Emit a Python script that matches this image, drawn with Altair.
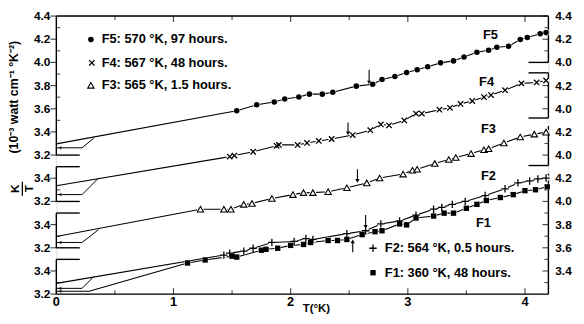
import altair as alt
import pandas as pd

# ---------------- data ----------------
# T (K) and K/T (1e-3 W cm^-1 K^-2) in each series' own (offset) axis frame
f5_T = [1.54, 1.71, 1.86, 1.95, 2.07, 2.16, 2.27, 2.36, 2.56, 2.70, 2.78, 2.89, 2.99,
        3.08, 3.17, 3.28, 3.39, 3.48, 3.59, 3.69, 3.76, 3.86, 3.96, 4.02, 4.13, 4.18]
f5_v = [3.583, 3.634, 3.659, 3.684, 3.701, 3.726, 3.726, 3.743, 3.795, 3.812, 3.853, 3.878, 3.912,
        3.937, 3.962, 3.996, 4.013, 4.046, 4.088, 4.105, 4.131, 4.139, 4.198, 4.215, 4.248, 4.257]

f4_T = [1.48, 1.52, 1.68, 1.88, 1.90, 2.06, 2.14, 2.24, 2.35, 2.53, 2.68, 2.77, 2.84,
        2.97, 3.07, 3.12, 3.27, 3.36, 3.45, 3.55, 3.65, 3.71, 3.83, 3.97, 4.10, 4.18]
f4_v = [3.587, 3.596, 3.629, 3.680, 3.688, 3.688, 3.705, 3.722, 3.739, 3.773, 3.815, 3.865, 3.857,
        3.899, 3.958, 3.958, 3.992, 4.008, 4.042, 4.067, 4.101, 4.118, 4.160, 4.219, 4.227, 4.244]

f3_T = [1.23, 1.43, 1.49, 1.60, 1.67, 1.84, 2.02, 2.11, 2.19, 2.32, 2.48, 2.65, 2.76,
        2.96, 3.04, 3.08, 3.23, 3.35, 3.41, 3.54, 3.65, 3.69, 3.82, 3.96, 4.08, 4.18]
f3_v = [3.533, 3.533, 3.533, 3.575, 3.583, 3.625, 3.659, 3.676, 3.676, 3.684, 3.718, 3.760, 3.802,
        3.836, 3.869, 3.878, 3.928, 3.962, 3.979, 4.013, 4.046, 4.055, 4.105, 4.156, 4.181, 4.198]

f2_T = [1.43, 1.48, 1.60, 1.68, 1.84, 2.03, 2.13, 2.19, 2.48, 2.64, 2.77, 2.93, 3.07,
        3.22, 3.29, 3.38, 3.49, 3.66, 3.83, 3.94, 4.04, 4.11, 4.18]
f2_v = [3.537, 3.554, 3.571, 3.596, 3.646, 3.655, 3.680, 3.672, 3.722, 3.747, 3.806, 3.832, 3.882,
        3.933, 3.949, 3.975, 4.000, 4.051, 4.109, 4.160, 4.177, 4.194, 4.202]

f1_T = [1.12, 1.27, 1.50, 1.54, 1.75, 1.79, 1.89, 2.00, 2.11, 2.17, 2.32, 2.40, 2.48, 2.61, 2.72,
        2.78, 2.93, 2.99, 3.07, 3.22, 3.31, 3.39, 3.50, 3.59, 3.67, 3.79, 3.90, 4.00, 4.09, 4.19]
f1_v = [3.469, 3.495, 3.528, 3.520, 3.579, 3.587, 3.596, 3.621, 3.629, 3.646, 3.663, 3.663, 3.672,
        3.714, 3.739, 3.747, 3.806, 3.798, 3.857, 3.874, 3.899, 3.899, 3.941, 3.975, 4.008, 4.034,
        4.059, 4.093, 4.101, 4.126]

series_names = ["F5", "F4", "F3", "F2", "F1"]
offsets = [1.2, 0.8, 0.4, 0.0, 0.0]          # vertical shift of each curve's axis frame
lead_T = [[0.0], [0.0], [0.0], [0.0], [0.0, 0.28]]   # straight extrapolated start of each line
lead_v = [[3.297], [3.335], [3.297], [3.293], [3.225, 3.225]]
inset_T = [[0.0, 0.22, 0.32], [0.0, 0.22, 0.36], [0.0, 0.22, 0.36], [0.0, 0.22, 0.32]]
inset_v = [[3.263, 3.263, 3.347], [3.259, 3.259, 3.402], [3.246, 3.246, 3.356], [3.25, 3.25, 3.352]]

# arrows marking the transition: T, tail value, tip value (series frame)
arrow_series = ["F5", "F4", "F3", "F2", "F1"]
arrow_T = [2.67, 2.49, 2.57, 2.64, 2.53]
arrow_tail = [3.937, 3.882, 3.878, 3.882, 3.562]
arrow_tip = [3.827, 3.789, 3.777, 3.781, 3.655]

legend_top = ["F5: 570 °K,  97 hours.", "F4: 567 °K,  48 hours.", "F3: 565 °K,  1.5 hours."]
legend_bot = ["F2: 564 °K, 0.5 hours.", "F1: 360 °K, 48 hours."]
x_ticks = [0, 1, 2, 3, 4]

FONT = "Liberation Sans"
off = dict(zip(series_names, offsets))
data = {"F5": (f5_T, f5_v), "F4": (f4_T, f4_v), "F3": (f3_T, f3_v), "F2": (f2_T, f2_v), "F1": (f1_T, f1_v)}

xs = alt.Scale(domain=[0, 4.2], nice=False, zero=False)
ys = alt.Scale(domain=[3.2, 5.6], nice=False, zero=False)
X = alt.X("T:Q", scale=xs, axis=None)
Y = alt.Y("u:Q", scale=ys, axis=None)

# ---------------- lines ----------------
rows = []
for i, s in enumerate(series_names):
    k = 0
    for t, v in zip(lead_T[i], lead_v[i]):
        rows.append({"s": s, "T": t, "u": v + offsets[i], "o": k}); k += 1
    for t, v in zip(*data[s]):
        rows.append({"s": s, "T": t, "u": v + offsets[i], "o": k}); k += 1
lines_df = pd.DataFrame(rows)
lines = alt.Chart(lines_df).mark_line(color="black", strokeWidth=1.1).encode(
    x=X, y=Y, detail="s:N", order="o:Q")

rows = []
for i, s in enumerate(series_names[:4]):
    for k, (t, v) in enumerate(zip(inset_T[i], inset_v[i])):
        rows.append({"s": s, "T": t, "u": v + offsets[i], "o": k})
inset_df = pd.DataFrame(rows)
insets = alt.Chart(inset_df).mark_line(color="black", strokeWidth=1.0).encode(
    x=X, y=Y, detail="s:N", order="o:Q")

heads_df = pd.DataFrame(
    [{"T": 0.03, "u": inset_v[i][0] + offsets[i]} for i in range(4)] +
    [{"T": 0.03, "u": lead_v[4][0] + offsets[4]}])
heads = alt.Chart(heads_df).mark_point(shape="triangle-left", filled=True, color="black", size=14).encode(x=X, y=Y)

# ---------------- markers ----------------
def pts(s):
    T, v = data[s]
    return pd.DataFrame({"T": T, "u": [a + off[s] for a in v]})

all_pts = pd.concat([pts(s) for s in series_names], ignore_index=True)
halo = alt.Chart(all_pts).mark_point(shape="circle", filled=True, color="white", size=44, opacity=1).encode(x=X, y=Y)

m5 = alt.Chart(pts("F5")).mark_point(shape="circle", filled=True, color="black", size=32, opacity=1).encode(x=X, y=Y)
m4 = alt.Chart(pts("F4")).mark_point(shape="M-1,-1L1,1M-1,1L1,-1", filled=False, color="black",
                                     size=30, strokeWidth=1.3, opacity=1).encode(x=X, y=Y)
m3 = alt.Chart(pts("F3")).mark_point(shape="triangle-up", filled=True, fill="white", stroke="black",
                                     strokeWidth=1.1, size=42, opacity=1).encode(x=X, y=Y)
m2 = alt.Chart(pts("F2")).mark_point(shape="M-1,0L1,0M0,-1L0,1", filled=False, color="black",
                                     size=56, strokeWidth=1.3, opacity=1).encode(x=X, y=Y)
m1 = alt.Chart(pts("F1")).mark_point(shape="square", filled=True, color="black", size=30, opacity=1).encode(x=X, y=Y)

# ---------------- transition arrows ----------------
arr_df = pd.DataFrame({
    "T": arrow_T,
    "u": [a + off[s] for a, s in zip(arrow_tail, arrow_series)],
    "u2": [a + off[s] for a, s in zip(arrow_tip, arrow_series)],
    "dir": ["down" if b < a else "up" for a, b in zip(arrow_tail, arrow_tip)],
})
arr_rule = alt.Chart(arr_df).mark_rule(color="black", strokeWidth=1.1).encode(x=X, y=Y, y2="u2:Q")
arr_head = alt.Chart(arr_df).mark_point(filled=True, color="black", size=18, opacity=1).encode(
    x=X, y=alt.Y("u2:Q", scale=ys, axis=None),
    shape=alt.Shape("dir:N", scale=alt.Scale(domain=["down", "up"], range=["triangle-down", "triangle-up"]), legend=None))

# ---------------- frame / segmented axes ----------------
# (T1, v1, T2, v2, frame offset)
segments = [
    (0, 4.4, 4.2, 4.4, 1.2), (0, 3.2, 4.2, 3.2, 0.0),
    (0, 3.2, 0, 4.4, 1.2), (0, 3.2, 0.2, 3.2, 1.2),
    (0, 3.2, 0, 3.5, 0.8), (0, 3.5, 0.2, 3.5, 0.8), (0, 3.2, 0.2, 3.2, 0.8),
    (0, 3.2, 0, 3.5, 0.4), (0, 3.5, 0.2, 3.5, 0.4), (0, 3.2, 0.2, 3.2, 0.4),
    (0, 3.2, 0, 3.5, 0.0), (0, 3.5, 0.2, 3.5, 0.0),
    (4.2, 4.0, 4.2, 4.4, 1.2), (4.03, 4.0, 4.2, 4.0, 1.2),
    (4.2, 3.92, 4.2, 4.31, 0.8), (4.03, 4.31, 4.2, 4.31, 0.8), (4.03, 3.92, 4.2, 3.92, 0.8),
    (4.2, 3.91, 4.2, 4.25, 0.4), (4.03, 3.91, 4.2, 3.91, 0.4),
    (4.2, 3.2, 4.2, 4.24, 0.0),
]
seg_df = pd.DataFrame([{"T": a, "u": b + o, "T2": c, "u2": d + o} for a, b, c, d, o in segments])
frame = alt.Chart(seg_df).mark_rule(color="black", strokeWidth=1.4).encode(
    x=X, y=Y, x2="T2:Q", y2="u2:Q")

# axis ticks: (frame offset, major values, minor values)
left_axes = [(1.2, [3.2, 3.4, 3.6, 3.8, 4.0, 4.2, 4.4], [3.3, 3.5, 3.7, 3.9, 4.1, 4.3]),
             (0.8, [3.2, 3.4], [3.3]), (0.4, [3.2, 3.4], [3.3]), (0.0, [3.2, 3.4], [3.3])]
right_axes = [(1.2, [4.0, 4.2, 4.4], [4.1, 4.3]), (0.8, [4.0, 4.2], [4.1]),
              (0.4, [4.0, 4.2], [4.1]), (0.0, [3.4, 3.6, 3.8, 4.0, 4.2], [3.3, 3.5, 3.7, 3.9, 4.1])]

def tick_df(axes, T, which):
    r = []
    for o, maj, mnr in axes:
        for v in (maj if which == "maj" else mnr):
            r.append({"T": T, "u": v + o, "lab": f"{v:.1f}"})
    return pd.DataFrame(r)

lmaj, lmin = tick_df(left_axes, 0.0, "maj"), tick_df(left_axes, 0.0, "min")
rmaj, rmin = tick_df(right_axes, 4.2, "maj"), tick_df(right_axes, 4.2, "min")
lt1 = alt.Chart(lmaj).mark_tick(orient="horizontal", size=6, thickness=1.2, color="black", xOffset=-3).encode(x=X, y=Y)
lt2 = alt.Chart(lmin).mark_tick(orient="horizontal", size=4, thickness=1.1, color="black", xOffset=2).encode(x=X, y=Y)
rt1 = alt.Chart(rmaj).mark_tick(orient="horizontal", size=6, thickness=1.2, color="black", xOffset=-3).encode(x=X, y=Y)
rt2 = alt.Chart(rmin).mark_tick(orient="horizontal", size=4, thickness=1.1, color="black", xOffset=-2).encode(x=X, y=Y)
ll = alt.Chart(lmaj).mark_text(align="right", baseline="middle", dx=-6, font=FONT, fontSize=12,
                               fontWeight="bold").encode(x=X, y=Y, text="lab:N")
rl = alt.Chart(rmaj).mark_text(align="left", baseline="middle", dx=7, font=FONT, fontSize=12,
                               fontWeight="bold").encode(x=X, y=Y, text="lab:N")

xmaj = [float(t) for t in x_ticks]
xmin = [t + 0.5 for t in x_ticks]
bt_df = pd.DataFrame({"T": xmaj, "u": 3.2, "lab": [str(t) for t in x_ticks]})
bm_df = pd.DataFrame({"T": xmin, "u": 3.2})
tt_df = pd.DataFrame({"T": xmaj[1:], "u": 5.6})
tm_df = pd.DataFrame({"T": xmin, "u": 5.6})
bt1 = alt.Chart(bt_df).mark_tick(orient="vertical", size=6, thickness=1.2, color="black", yOffset=-3).encode(x=X, y=Y)
bt2 = alt.Chart(bm_df).mark_tick(orient="vertical", size=4, thickness=1.1, color="black", yOffset=-2).encode(x=X, y=Y)
tt1 = alt.Chart(tt_df).mark_tick(orient="vertical", size=6, thickness=1.2, color="black", yOffset=3).encode(x=X, y=Y)
tt2 = alt.Chart(tm_df).mark_tick(orient="vertical", size=4, thickness=1.1, color="black", yOffset=2).encode(x=X, y=Y)
bl = alt.Chart(bt_df).mark_text(baseline="top", dy=2, font=FONT, fontSize=13, fontWeight="bold").encode(x=X, y=Y, text="lab:N")

# ---------------- annotations ----------------
def txt(df, **kw):
    base = dict(font=FONT, fontSize=12, fontWeight="bold", baseline="middle", color="black")
    base.update(kw)
    return alt.Chart(df).mark_text(**base).encode(x=X, y=Y, text="t:N")

lab_df = pd.DataFrame({"T": [3.705, 3.672, 3.688, 3.688, 3.646],
                       "u": [5.432, 5.027, 4.623, 4.219, 3.815], "t": series_names})
series_labels = txt(lab_df, fontSize=13)

leg_top_df = pd.DataFrame({"T": [0.387] * 3, "u": [5.398, 5.196, 5.002], "t": legend_top})
leg_bot_df = pd.DataFrame({"T": [2.804] * 2, "u": [3.596, 3.385], "t": legend_bot})
leg_texts = txt(leg_top_df, align="left", fontSize=13) + txt(leg_bot_df, align="left", fontSize=13)
ls5 = alt.Chart(pd.DataFrame({"T": [0.295], "u": [5.398]})).mark_point(shape="circle", filled=True, color="black", size=32, opacity=1).encode(x=X, y=Y)
ls4 = alt.Chart(pd.DataFrame({"T": [0.303], "u": [5.196]})).mark_point(shape="M-1,-1L1,1M-1,1L1,-1", filled=False, color="black", size=30, strokeWidth=1.3, opacity=1).encode(x=X, y=Y)
ls3 = alt.Chart(pd.DataFrame({"T": [0.295], "u": [5.002]})).mark_point(shape="triangle-up", filled=True, fill="white", stroke="black", strokeWidth=1.1, size=42, opacity=1).encode(x=X, y=Y)
ls2 = alt.Chart(pd.DataFrame({"T": [2.703], "u": [3.596]})).mark_point(shape="M-1,0L1,0M0,-1L0,1", filled=False, color="black", size=56, strokeWidth=1.3, opacity=1).encode(x=X, y=Y)
ls1 = alt.Chart(pd.DataFrame({"T": [2.703], "u": [3.385]})).mark_point(shape="square", filled=True, color="black", size=30, opacity=1).encode(x=X, y=Y)

xtitle = txt(pd.DataFrame({"T": [2.22], "u": [3.2], "t": ["T(°K)"]}), baseline="top", dy=9, fontSize=11.5)
ytitle = txt(pd.DataFrame({"T": [-0.362], "u": [4.90], "t": ["(10⁻³   watt   cm⁻¹   °K⁻²)"]}), angle=270, fontSize=12.5)
kt = txt(pd.DataFrame({"T": [-0.35, -0.23], "u": [4.11, 4.11], "t": ["K", "T"]}), angle=270, fontSize=12)
kbar = alt.Chart(pd.DataFrame({"T": [-0.29], "u": [4.05], "u2": [4.17]})).mark_rule(color="black", strokeWidth=1.3).encode(x=X, y=Y, y2="u2:Q")

chart = alt.layer(
    frame, lt1, lt2, rt1, rt2, bt1, bt2, tt1, tt2, ll, rl, bl,
    lines, insets, heads, arr_rule, arr_head, halo,
    m5, m4, m3, m2, m1,
    series_labels, leg_texts, ls5, ls4, ls3, ls2, ls1, xtitle, ytitle, kt, kbar,
).properties(
    width=499, height=282,
    padding={"left": 49, "top": 6, "right": 28, "bottom": 20},
    autosize=alt.AutoSizeParams(type="none"),
).configure_view(stroke=None).configure(background="white")

chart.save("out.html", embed_options={"renderer": "svg", "actions": False})
